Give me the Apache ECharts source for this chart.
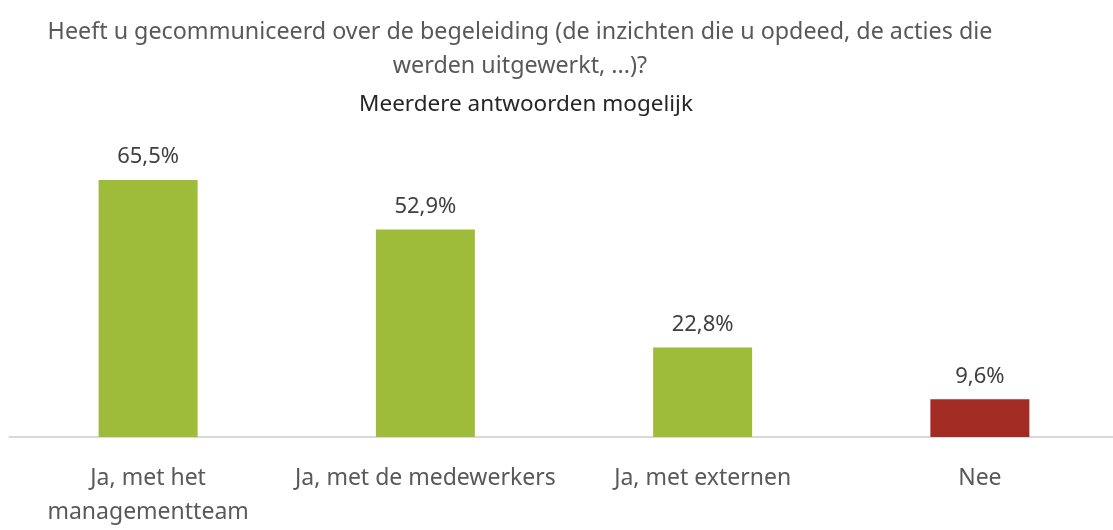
<!DOCTYPE html>
<html>
<head>
<meta charset="utf-8">
<script src="https://cdn.jsdelivr.net/npm/echarts@6/dist/echarts.min.js"></script>
<style>
  html, body { margin: 0; padding: 0; background: #fff; }
  #main { width: 1113px; height: 530px; }
</style>
</head>
<body>
<div id="main"></div>
<script>
var categories = ['Ja, met het\nmanagementteam', 'Ja, met de medewerkers', 'Ja, met externen', 'Nee']
var values = [65.5, 52.9, 22.8, 9.6]
var barColors = ['#9FBB3A', '#9FBB3A', '#9FBB3A', '#A22C23']

var fontFam = "'Noto Sans', 'Open Sans', sans-serif"

var myChart = echarts.init(document.getElementById('main'))
myChart.setOption({
  animation: false,
  title: [
    {
      text: 'Heeft u gecommuniceerd over de begeleiding (de inzichten die u opdeed, de acties die\nwerden uitgewerkt, ...)?',
      left: 515,
      top: 10,
      textAlign: 'center',
      textStyle: {
        fontFamily: fontFam,
        fontWeight: 'normal',
        fontSize: 23.3,
        lineHeight: 34,
        color: '#595959'
      }
    },
    {
      text: 'Meerdere antwoorden mogelijk',
      left: 521,
      top: 88,
      textAlign: 'center',
      textStyle: {
        fontFamily: fontFam,
        fontWeight: 'normal',
        fontSize: 22.5,
        color: '#262626'
      }
    }
  ],
  grid: {
    left: 9.5,
    width: 1109,
    top: 162.3,
    bottom: 93,
    containLabel: false,
    outerBoundsMode: 'none'
  },
  xAxis: {
    type: 'category',
    data: categories,
    axisLine: {
      lineStyle: { color: '#D9D9D9', width: 2 }
    },
    axisTick: { show: false },
    axisLabel: {
      interval: 0,
      margin: 24,
      fontFamily: fontFam,
      fontSize: 23,
      lineHeight: 34,
      color: '#595959'
    }
  },
  yAxis: {
    type: 'value',
    min: 0,
    max: 70,
    show: false
  },
  series: [
    {
      type: 'bar',
      barWidth: 99,
      data: values.map(function (v, i) {
        return { value: v, itemStyle: { color: barColors[i] } }
      }),
      label: {
        show: true,
        position: 'top',
        distance: 12,
        fontFamily: fontFam,
        fontSize: 22,
        color: '#404040',
        formatter: function (p) {
          return p.value.toFixed(1).replace('.', ',') + '%'
        }
      }
    }
  ]
})
</script>
</body>
</html>
